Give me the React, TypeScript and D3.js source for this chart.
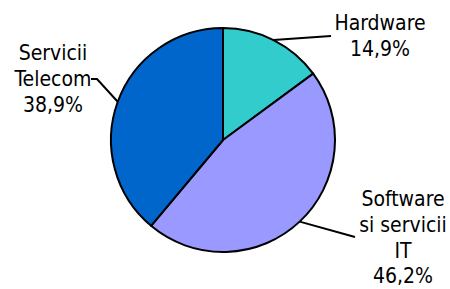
import React from "react";
import * as d3 from "d3";

// Chart data
const categories = ["Hardware", "Software si servicii IT", "Servicii Telecom"];
const values = [14.9, 46.2, 38.9];
const valueLabels = ["14,9%", "46,2%", "38,9%"];
const labelLines = [["Hardware"], ["Software", "si servicii", "IT"], ["Servicii", "Telecom"]];
const colors = ["#33CCCC", "#9999FF", "#0066CC"];

// Label layout (text position + leader elbow)
const labelLayout = [
  { x: 380, y: 30, elbow: [[331, 36]] },
  { x: 403, y: 206, elbow: [[355, 237]] },
  { x: 53, y: 60, elbow: [[97, 79], [91, 79]] },
];

const width = 450;
const height = 289;
const cx = 223;
const cy = 140;
const radius = 112;
const lineGap = 25.8;

const App = () => {
  const pie = d3
    .pie<number>()
    .sort(null)
    .value((d) => d)
    .startAngle(0)
    .endAngle(2 * Math.PI);
  const arcs = pie(values);
  const arc = d3.arc<d3.PieArcDatum<number>>().innerRadius(0).outerRadius(radius);

  return (
    <svg
      width={width}
      height={height}
      style={{ position: "absolute", left: 0, top: 0, background: "#fff" }}
      fontFamily="'DejaVu Sans Condensed', 'DejaVu Sans', sans-serif"
      fontSize={21}
    >
      <g transform={`translate(${cx},${cy})`}>
        {arcs.map((a, i) => (
          <path key={categories[i]} d={arc(a) || ""} fill={colors[i]} stroke="#000" strokeWidth={2} strokeLinejoin="round" />
        ))}
      </g>
      {arcs.map((a, i) => {
        const mid = (a.startAngle + a.endAngle) / 2;
        const sx = cx + radius * Math.sin(mid);
        const sy = cy - radius * Math.cos(mid);
        const pts = [[sx, sy], ...labelLayout[i].elbow] as [number, number][];
        return (
          <path key={"l" + i} d={d3.line()(pts) || ""} fill="none" stroke="#000" strokeWidth={2} />
        );
      })}
      {labelLines.map((lines, i) => {
        const all = [...lines, valueLabels[i]];
        return (
          <text key={"t" + i} textAnchor="middle" fill="#000">
            {all.map((s, j) => (
              <tspan key={j} x={labelLayout[i].x} y={labelLayout[i].y + j * lineGap}>
                {s}
              </tspan>
            ))}
          </text>
        );
      })}
    </svg>
  );
};

export default App;
